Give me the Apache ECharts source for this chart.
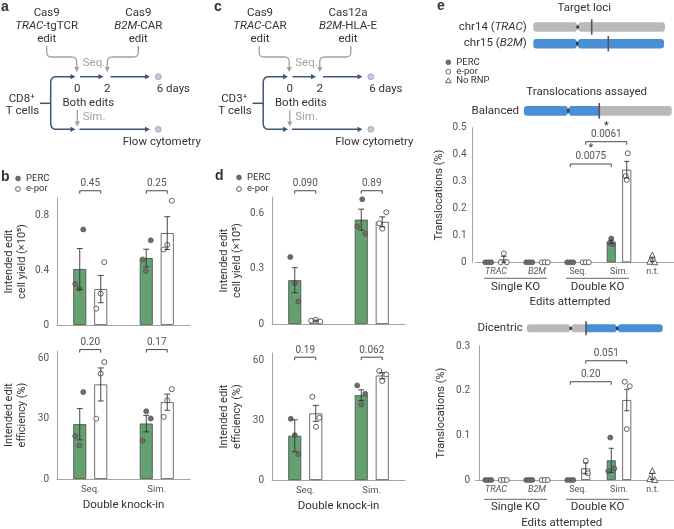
<!DOCTYPE html>
<html><head><meta charset="utf-8">
<script src="https://cdn.jsdelivr.net/npm/echarts@6/dist/echarts.min.js"></script>
<style>html,body{margin:0;padding:0;background:#fff}#c{width:674px;height:529px}</style>
</head><body><div id="c"></div>
<script>
// ================= DATA =================
const KI_CATS = ['Seq.', 'Sim.'];
// panel b (CD8+, TRAC-tgTCR + B2M-CAR)
const B_YIELD_PERC = [0.41, 0.49];
const B_YIELD_PERC_SEM = [0.15, 0.065];
const B_YIELD_PERC_PTS = [[0.70, 0.30, 0.265], [0.62, 0.48, 0.395]];
const B_YIELD_EPOR = [0.263, 0.673];
const B_YIELD_EPOR_SEM = [0.10, 0.12];
const B_YIELD_EPOR_PTS = [[0.46, 0.23, 0.12], [0.91, 0.587, 0.553]];
const B_YIELD_P = ['0.45', '0.25'];
const B_EFF_PERC = [27.2, 27.5];
const B_EFF_PERC_SEM = [7.8, 4.1];
const B_EFF_PERC_PTS = [[43.1, 21.3, 16.7], [33.6, 30.0, 19.0]];
const B_EFF_EPOR = [46.9, 38.1];
const B_EFF_EPOR_SEM = [8.2, 4.0];
const B_EFF_EPOR_PTS = [[58.0, 52.3, 29.9], [44.6, 39.0, 30.8]];
const B_EFF_P = ['0.20', '0.17'];
// panel d (CD3+, TRAC-CAR + B2M-HLA-E)
const D_YIELD_PERC = [0.238, 0.567];
const D_YIELD_PERC_SEM = [0.068, 0.057];
const D_YIELD_PERC_PTS = [[0.364, 0.222, 0.122], [0.678, 0.53, 0.49]];
const D_YIELD_EPOR = [0.018, 0.555];
const D_YIELD_EPOR_SEM = [0.003, 0.027];
const D_YIELD_EPOR_PTS = [[0.018, 0.023, 0.013], [0.607, 0.547, 0.518]];
const D_YIELD_P = ['0.090', '0.89'];
const D_EFF_PERC = [22.1, 42.4];
const D_EFF_PERC_SEM = [8.0, 2.7];
const D_EFF_PERC_PTS = [[30.6, 22.4, 12.9], [47.3, 43.1, 37.8]];
const D_EFF_EPOR = [33.3, 52.2];
const D_EFF_EPOR_SEM = [4.0, 1.5];
const D_EFF_EPOR_PTS = [[41.6, 31.1, 26.6], [54.5, 52.8, 49.5]];
const D_EFF_P = ['0.19', '0.062'];
// panel e
const KO_CATS = ['TRAC', 'B2M', 'Seq.', 'Sim.', 'n.t.'];
const BAL_PERC = [0, 0, 0, 0.076, null];
const BAL_PERC_SEM = [0, 0, 0, 0.006, null];
const BAL_PERC_PTS = [[0, 0, 0], [0, 0, 0], [0, 0, 0], [0.088, 0.072, 0.068]];
const BAL_EPOR = [0.011, 0, 0, 0.344, null];
const BAL_EPOR_SEM = [0.011, 0, 0, 0.031, null];
const BAL_EPOR_PTS = [[0.033, 0, 0], [0, 0, 0], [0, 0, 0], [0.405, 0.32, 0.306]];
const BAL_NORNP = [null, null, null, null, 0.011];
const BAL_NORNP_SEM = [null, null, null, null, 0.008];
const BAL_NORNP_PTS = [[], [], [], [], [0.027, 0.004, 0.002]];
const BAL_P = ['0.0075', '0.0061'];
const DIC_PERC = [0, 0, 0, 0.044, null];
const DIC_PERC_SEM = [0, 0, 0, 0.027, null];
const DIC_PERC_PTS = [[0, 0, 0], [0, 0, 0], [0, 0, 0], [0.095, 0.026, 0.02]];
const DIC_EPOR = [0, 0, 0.026, 0.179, null];
const DIC_EPOR_SEM = [0, 0, 0.012, 0.024, null];
const DIC_EPOR_PTS = [[0, 0, 0], [0, 0, 0], [0.043, 0.02, 0.015], [0.22, 0.21, 0.114]];
const DIC_NORNP = [null, null, null, null, 0.008];
const DIC_NORNP_SEM = [null, null, null, null, 0.007];
const DIC_NORNP_PTS = [[], [], [], [], [0.021, 0.003, 0.001]];
const DIC_P = ['0.20', '0.051'];

// ================= STYLE / LAYOUT =================
const FONT = 'Roboto, "Noto Sans", "DejaVu Sans", sans-serif';
const INK = '#333333', AX_TXT = '#555555', AX_LINE = '#9a9a9a';
const GREEN = '#63a171', DOT = '#6e6e6e', EDGE = '#4a4a4a';
const BLUE_CH = '#4a8fd3', GREY_CH = '#b9b9b9', NAVY = '#3e5573', GREY_ARW = '#a0a0a0';
const TICK_FS = 10, P_FS = 10;
// horizontal jitter of replicate points (px)
const J_B_YIELD_PERC = [[3.5, -4.5, -0.5], [4.5, -3.5, -0.5]];
const J_B_YIELD_EPOR = [[3.5, 0, -4.5], [4.5, 0, -3.5]];
const J_B_EFF_PERC = [[3.5, -4.5, -0.5], [0, 4.5, -3.5]];
const J_B_EFF_EPOR = [[3.5, 0, -4.5], [4.5, 0, -3.5]];
const J_D_YIELD_PERC = [[-4.5, 0, 3.5], [1, -4, 4]];
const J_D_YIELD_EPOR = [[-4.5, 0, 4.5], [4, -3, 0]];
const J_D_EFF_PERC = [[-4, 0, 3.5], [-4, 4, 0]];
const J_D_EFF_EPOR = [[-3.4, 3.6, 0.3], [-3, 4, 0]];
const J_BAL_PERC = [[-3, 0, 3], [-3, 0, 3], [-3, 0, 3], [0, -1.5, 1.5]];
const J_BAL_EPOR = [[0, -3, 3], [-3, 0, 3], [-3, 0, 3], [1, -1, 0]];
const J_DIC_PERC = [[-3, 0, 3], [-3, 0, 3], [-3, 0, 3], [-1, 3, -3]];
const J_DIC_EPOR = [[-3, 0, 3], [-3, 0, 3], [0, -2, 2], [-2, 3, 0]];
const J_NT = [[], [], [], [], [0, -2.5, 2.5]];

const GRIDS = [
  {left: 57, top: 198, width: 133, height: 127},
  {left: 57, top: 351, width: 133, height: 128},
  {left: 272, top: 197, width: 133, height: 127},
  {left: 272, top: 353, width: 133, height: 127},
  {left: 475.5, top: 127.7, width: 205, height: 134.6},
  {left: 475.5, top: 346, width: 205, height: 134}
];
const YAX = [
  {max: 0.93, interval: 0.4, name: 'Intended edit\ncell yield (×10⁵)', gap: 28, showMax: false, offset: 0, margin: 8},
  {max: 63.5, interval: 30, name: 'Intended edit\nefficiency (%)', gap: 28, showMax: false, offset: 0, margin: 8},
  {max: 0.69, interval: 0.3, name: 'Intended edit\ncell yield (×10⁵)', gap: 28, showMax: false, offset: 0, margin: 8},
  {max: 63.5, interval: 30, name: 'Intended edit\nefficiency (%)', gap: 28, showMax: false, offset: 0, margin: 8},
  {max: 0.5, interval: 0.1, name: 'Translocations (%)', gap: 26, showMax: true, offset: 3.5, margin: 5.5},
  {max: 0.3, interval: 0.1, name: 'Translocations (%)', gap: 31, showMax: true, offset: -3.5, margin: 9}
];

const chart = echarts.init(document.getElementById('c'), null, {renderer: 'canvas', width: 674, height: 529});

const grid = GRIDS.map(g => Object.assign({outerBoundsMode: 'none', containLabel: false}, g));
const yAxis = YAX.map((a, i) => ({
  type: 'value', gridIndex: i, min: 0, max: a.max, interval: a.interval, offset: a.offset,
  name: a.name, nameLocation: 'middle', nameRotate: 90, nameGap: a.gap, nameMoveOverlap: false,
  nameTextStyle: {fontFamily: FONT, fontSize: 11, lineHeight: 13.5, color: INK},
  axisLine: {show: true, lineStyle: {color: AX_LINE, width: 0.9}},
  axisTick: {show: false}, splitLine: {show: false},
  axisLabel: {fontFamily: FONT, fontSize: TICK_FS, color: AX_TXT, margin: a.margin, showMaxLabel: a.showMax, showMinLabel: true,
    formatter: v => (Math.round(v * 1000) / 1000).toString()}
}));
const xAxis = [0, 1, 2, 3].map(i => ({
  type: 'category', gridIndex: i, data: KI_CATS,
  name: (i === 1 || i === 3) ? 'Double knock-in' : '', nameLocation: 'middle', nameGap: 20.5,
  nameTextStyle: {fontFamily: FONT, fontSize: 11.5, color: INK},
  axisLine: {lineStyle: {color: AX_LINE, width: 0.9}}, axisTick: {show: false},
  axisLabel: {show: i === 1 || i === 3, interval: 0, fontFamily: FONT, fontSize: 9.5, color: AX_TXT, margin: 5.5}
})).concat([4, 5].map(i => ({
  type: 'category', gridIndex: i, data: KO_CATS,
  axisLine: {lineStyle: {color: AX_LINE, width: 0.9}}, axisTick: {show: false},
  axisLabel: {interval: 0, fontFamily: FONT, fontSize: 9, color: AX_TXT, margin: i === 4 ? 4.5 : 5,
    formatter: v => (v === 'TRAC' || v === 'B2M') ? '{i|' + v + '}' : (v === 'n.t.' ? '{nt|' + v + '}' : v),
    rich: {i: {fontStyle: 'italic', fontFamily: FONT, fontSize: 9, color: AX_TXT},
           nt: {fontFamily: FONT, fontSize: 9, color: AX_TXT, padding: [0, 14.6, 0, 0]}}}
})));

const series = [];
function scatterS(gi, pts, jit, off, fill, symbol) {
  const data = [];
  pts.forEach((arr, i) => arr.forEach((v, k) => data.push({value: [i, v], symbolOffset: [off + jit[i][k], 0]})));
  return {type: 'scatter', xAxisIndex: gi, yAxisIndex: gi, data, symbol, symbolSize: symbol === 'triangle' ? 6 : 5,
    clip: false, z: 3, silent: true, animation: false,
    itemStyle: {color: fill, borderColor: '#505050', borderWidth: fill === '#ffffff' ? 0.9 : 0.7, opacity: 1}};
}
function errS(gi, means, sems, off, cap) {
  const data = [];
  means.forEach((m, i) => { if (m != null && sems[i]) data.push([i, m, sems[i]]); });
  return {type: 'custom', xAxisIndex: gi, yAxisIndex: gi, data, z: 4, silent: true, animation: false, clip: false,
    encode: {x: 0, y: 1},
    renderItem(params, api) {
      const i = api.value(0), m = api.value(1), s = api.value(2);
      const t = api.coord([i, m + s]), b = api.coord([i, Math.max(0, m - s)]);
      const x = t[0] + off, st = {stroke: '#333', lineWidth: 0.9};
      return {type: 'group', children: [
        {type: 'line', shape: {x1: x, y1: t[1], x2: x, y2: b[1]}, style: st},
        {type: 'line', shape: {x1: x - cap, y1: t[1], x2: x + cap, y2: t[1]}, style: st},
        {type: 'line', shape: {x1: x - cap, y1: b[1], x2: x + cap, y2: b[1]}, style: st}
      ]};
    }};
}
function panel(gi, d, off, bw, gap, cap) {
  const bar = (vals, color) => ({type: 'bar', xAxisIndex: gi, yAxisIndex: gi, data: vals.map(v => v == null ? '-' : v),
    barWidth: bw, barGap: gap, z: 2, silent: true, animation: false,
    itemStyle: {color, borderColor: EDGE, borderWidth: 0.8}});
  series.push(bar(d.perc, GREEN), bar(d.epor, '#ffffff'),
    scatterS(gi, d.percPts, d.jp, -off, DOT, 'circle'),
    scatterS(gi, d.eporPts, d.je, off, '#ffffff', 'circle'),
    errS(gi, d.perc, d.percSem, -off, cap), errS(gi, d.epor, d.eporSem, off, cap));
  if (d.nt) series.push(scatterS(gi, d.ntPts, J_NT, -off, '#ffffff', 'triangle'), errS(gi, d.nt, d.ntSem, -off, cap));
}
panel(0, {perc: B_YIELD_PERC, percSem: B_YIELD_PERC_SEM, percPts: B_YIELD_PERC_PTS, jp: J_B_YIELD_PERC,
  epor: B_YIELD_EPOR, eporSem: B_YIELD_EPOR_SEM, eporPts: B_YIELD_EPOR_PTS, je: J_B_YIELD_EPOR}, 10.5, 13, '61.5%', 3);
panel(1, {perc: B_EFF_PERC, percSem: B_EFF_PERC_SEM, percPts: B_EFF_PERC_PTS, jp: J_B_EFF_PERC,
  epor: B_EFF_EPOR, eporSem: B_EFF_EPOR_SEM, eporPts: B_EFF_EPOR_PTS, je: J_B_EFF_EPOR}, 10.5, 13, '61.5%', 3);
panel(2, {perc: D_YIELD_PERC, percSem: D_YIELD_PERC_SEM, percPts: D_YIELD_PERC_PTS, jp: J_D_YIELD_PERC,
  epor: D_YIELD_EPOR, eporSem: D_YIELD_EPOR_SEM, eporPts: D_YIELD_EPOR_PTS, je: J_D_YIELD_EPOR}, 10.5, 13, '61.5%', 3);
panel(3, {perc: D_EFF_PERC, percSem: D_EFF_PERC_SEM, percPts: D_EFF_PERC_PTS, jp: J_D_EFF_PERC,
  epor: D_EFF_EPOR, eporSem: D_EFF_EPOR_SEM, eporPts: D_EFF_EPOR_PTS, je: J_D_EFF_EPOR}, 10.5, 13, '61.5%', 3);
panel(4, {perc: BAL_PERC, percSem: BAL_PERC_SEM, percPts: BAL_PERC_PTS, jp: J_BAL_PERC,
  epor: BAL_EPOR, eporSem: BAL_EPOR_SEM, eporPts: BAL_EPOR_PTS, je: J_BAL_EPOR,
  nt: BAL_NORNP, ntSem: BAL_NORNP_SEM, ntPts: BAL_NORNP_PTS}, 7.75, 9, '72%', 2.5);
panel(5, {perc: DIC_PERC, percSem: DIC_PERC_SEM, percPts: DIC_PERC_PTS, jp: J_DIC_PERC,
  epor: DIC_EPOR, eporSem: DIC_EPOR_SEM, eporPts: DIC_EPOR_PTS, je: J_DIC_EPOR,
  nt: DIC_NORNP, ntSem: DIC_NORNP_SEM, ntPts: DIC_NORNP_PTS}, 7.75, 9, '72%', 2.5);

chart.setOption({animation: false, backgroundColor: '#ffffff', grid, xAxis, yAxis, series});

// ================= ANNOTATIONS / SCHEMATICS =================
const G = [];
function text(x, y, s, o = {}) {
  const size = o.size || 11.5;
  const font = (o.italic ? 'italic ' : '') + (o.bold ? 'bold ' : '') + size + 'px ' + (o.family || FONT);
  const al = o.align || 'center', va = o.va || 'middle';
  const st = {text: s, font, fill: o.fill || INK, align: al, verticalAlign: va, textAlign: al, textVerticalAlign: va};
  if (o.rich) st.rich = o.rich;
  G.push({type: 'text', x, y, rotation: o.rot || 0, silent: true, z: 100, style: st});
}
function richI(size, fill) { return {i: {font: 'italic ' + size + 'px ' + FONT, fill: fill || INK}}; }
function pl(points, stroke, lw) {
  G.push({type: 'polyline', silent: true, z: 100, shape: {points}, style: {stroke, fill: null, lineWidth: lw || 1, lineJoin: 'round'}});
}
function poly(points, fill) { G.push({type: 'polygon', silent: true, z: 100, shape: {points}, style: {fill}}); }
function circ(cx, cy, r, fill, stroke, lw) {
  G.push({type: 'circle', silent: true, z: 100, shape: {cx, cy, r}, style: {fill, stroke: stroke || null, lineWidth: lw || 0.8}});
}
function rect(x, y, w, h, r, fill) { G.push({type: 'rect', silent: true, z: 100, shape: {x, y, width: w, height: h, r}, style: {fill}}); }
function rounded(pts, r) {
  const out = [pts[0]];
  for (let i = 1; i < pts.length - 1; i++) {
    const [px, py] = pts[i - 1], [cx, cy] = pts[i], [nx, ny] = pts[i + 1];
    const d1 = Math.hypot(cx - px, cy - py), d2 = Math.hypot(nx - cx, ny - cy);
    const rr = Math.min(r, d1 / 2, d2 / 2);
    const ax = cx + (px - cx) / d1 * rr, ay = cy + (py - cy) / d1 * rr;
    const bx = cx + (nx - cx) / d2 * rr, by = cy + (ny - cy) / d2 * rr;
    for (let k = 0; k <= 8; k++) {
      const t = k / 8;
      out.push([(1 - t) * (1 - t) * ax + 2 * (1 - t) * t * cx + t * t * bx, (1 - t) * (1 - t) * ay + 2 * (1 - t) * t * cy + t * t * by]);
    }
  }
  out.push(pts[pts.length - 1]);
  return out;
}
function arrow(x, y, dir, color, len = 5, hw = 2.6) {
  if (dir === 'r') poly([[x, y], [x - len, y - hw], [x - len, y + hw]], color);
  else poly([[x, y], [x - hw, y - len], [x + hw, y - len]], color);
}

// panel labels
const PL = {bold: true, size: 14, family: '"Liberation Sans", Arial, sans-serif', align: 'left'};
text(1, 7, 'a', PL); text(214, 7, 'c', PL); text(437, 6, 'e', PL);
text(1, 177, 'b', PL); text(215, 176, 'd', PL);

function schematic(dx, L, R, cellTop) {
  const rich = richI(11.5);
  [13.3, 26, 39.3].forEach((y, k) => { text(L.cx, y, L.lines[k], {rich}); text(R.cx, y, R.lines[k], {rich}); });
  // grey arrows
  pl(rounded([[dx + 46.7, 46], [dx + 46.7, 57], [dx + 76.7, 57], [dx + 76.7, 67.5]], 5), GREY_ARW, 1.3);
  arrow(dx + 76.7, 72, 'd', GREY_ARW);
  pl(rounded([[dx + 138.3, 46], [dx + 138.3, 57], [dx + 107.3, 57], [dx + 107.3, 67.5]], 5), GREY_ARW, 1.3);
  arrow(dx + 107.3, 72, 'd', GREY_ARW);
  text(dx + 82.7, 63.3, 'Seq.', {align: 'left', fill: '#a3a3a3'});
  // navy timeline
  pl([[dx + 40, 103.3], [dx + 50.7, 103.3]], NAVY, 1.5);
  pl(rounded([[dx + 71, 76.7], [dx + 50.7, 76.7], [dx + 50.7, 129.3], [dx + 71, 129.3]], 6), NAVY, 1.5);
  arrow(dx + 75.5, 76.7, 'r', NAVY); arrow(dx + 75.5, 129.3, 'r', NAVY);
  pl([[dx + 80, 76.7], [dx + 99, 76.7]], NAVY, 1.5); arrow(dx + 103.5, 76.7, 'r', NAVY);
  pl([[dx + 110.5, 76.7], [dx + 145.5, 76.7]], NAVY, 1.5); arrow(dx + 150, 76.7, 'r', NAVY);
  pl([[dx + 79.5, 129.3], [dx + 145.5, 129.3]], NAVY, 1.5); arrow(dx + 150, 129.3, 'r', NAVY);
  circ(dx + 158.3, 76.7, 2.9, '#c9c8de', '#8e8ea6', 0.7);
  circ(dx + 158.3, 129.3, 2.9, '#c9c8de', '#8e8ea6', 0.7);
  pl([[dx + 77.3, 110], [dx + 77.3, 122]], GREY_ARW, 1.3); arrow(dx + 77.3, 126.5, 'd', GREY_ARW);
  text(dx + 82.7, 116.7, 'Sim.', {align: 'left', fill: '#a3a3a3'});
  text(dx + 77.3, 89.3, '0'); text(dx + 107.3, 89.3, '2');
  text(dx + 156.7, 89.3, '6 days', {align: 'left'});
  text(dx + 88.3, 103.3, 'Both edits');
  text(dx + 161.8, 141.7, 'Flow cytometry');
  text(dx + 21.7, 99, cellTop); text(dx + 22.5, 111, 'T cells');
}
schematic(0, {cx: 46.7, lines: ['Cas9', '{i|TRAC}-tgTCR', 'edit']}, {cx: 138.3, lines: ['Cas9', '{i|B2M}-CAR', 'edit']}, 'CD8⁺');
schematic(212.5, {cx: 260, lines: ['Cas9', '{i|TRAC}-CAR', 'edit']}, {cx: 348, lines: ['Cas12a', '{i|B2M}-HLA-E', 'edit']}, 'CD3⁺');

// legends
function legend(x, ys, tri) {
  circ(x, ys[0], 2.4, DOT, '#505050', 0.7); text(x + 8, ys[0], 'PERC', {align: 'left', size: 9.5});
  circ(x, ys[1], 2.4, '#ffffff', '#505050', 0.9); text(x + 8, ys[1], 'e-por', {align: 'left', size: 9.5});
  if (tri) {
    G.push({type: 'polygon', silent: true, z: 100, shape: {points: [[x, ys[2] - 2.8], [x - 2.8, ys[2] + 2], [x + 2.8, ys[2] + 2]]},
      style: {fill: '#fff', stroke: '#505050', lineWidth: 0.9}});
    text(x + 8, ys[2], 'No RNP', {align: 'left', size: 9.5});
  }
}
legend(18, [178.5, 189]); legend(239, [177.5, 189]); legend(448.3, [62.3, 71.7, 80.7], true);

// chromosomes
function chromo(segs, yc, h, cens, cut) {
  segs.forEach(s => rect(s.x1, yc - h / 2, s.x2 - s.x1, h, [s.l ? 3 : 0, s.r ? 3 : 0, s.r ? 3 : 0, s.l ? 3 : 0], s.c));
  cens.forEach(c => {
    poly([[c - 2.6, yc - h / 2 - 0.3], [c + 2.6, yc - h / 2 - 0.3], [c, yc - h / 2 + 2.4]], '#ffffff');
    poly([[c - 2.6, yc + h / 2 + 0.3], [c + 2.6, yc + h / 2 + 0.3], [c, yc + h / 2 - 2.4]], '#ffffff');
    rect(c - 1.3, yc - 1.6, 2.6, 3.2, 0.6, '#3a3a3a');
  });
  G.push({type: 'line', silent: true, z: 101, shape: {x1: cut, y1: yc - h / 2 - 3, x2: cut, y2: yc + h / 2 + 3}, style: {stroke: '#555', lineWidth: 1.6}});
}
text(584.3, 8.3, 'Target loci');
text(526.7, 26.7, 'chr14 ({i|TRAC})', {align: 'right', rich: richI(11.5)});
text(526.7, 43.5, 'chr15 ({i|B2M})', {align: 'right', rich: richI(11.5)});
chromo([{x1: 533.3, x2: 665, c: GREY_CH, l: 1, r: 1}], 27, 9.4, [577.7], 591.7);
chromo([{x1: 533.3, x2: 664, c: BLUE_CH, l: 1, r: 1}], 43.7, 9.4, [577.3], 608.3);
text(586.7, 91.7, 'Translocations assayed');
text(519, 110.8, 'Balanced', {align: 'right'});
chromo([{x1: 524, x2: 599.3, c: BLUE_CH, l: 1}, {x1: 599.3, x2: 671.7, c: GREY_CH, r: 1}], 110.8, 9.7, [568.3], 599.3);
text(522.7, 328.3, 'Dicentric', {align: 'right'});
chromo([{x1: 526.7, x2: 586, c: GREY_CH, l: 1}, {x1: 586, x2: 662.7, c: BLUE_CH, r: 1}], 328.3, 8, [570.7, 617.3], 586);

// significance brackets
const P = (gi, cat, val) => chart.convertToPixel({gridIndex: gi}, [cat, val]);
function bracket(x1, x2, y, tick) { pl([[x1, y + tick], [x1, y], [x2, y], [x2, y + tick]], '#333', 0.9); }
[[0, 0.983, B_YIELD_P], [1, 64.2, B_EFF_P], [2, 0.724, D_YIELD_P], [3, 61.4, D_EFF_P]].forEach(([gi, lvl, ps]) => {
  ps.forEach((p, i) => {
    const [cx, y] = P(gi, i, lvl);
    bracket(cx - 10.5, cx + 10.5, y, 3);
    text(cx, y - 7, p, {size: P_FS, fill: AX_TXT});
  });
});
[[4, -1, 0.365, BAL_P[0], true], [4, 1, 0.448, BAL_P[1], true], [5, -1, 0.22, DIC_P[0], false], [5, 1, 0.267, DIC_P[1], false]]
  .forEach(([gi, side, lvl, p, star]) => {
    const a = P(gi, 2, lvl), b = P(gi, 3, lvl);
    const x1 = a[0] + side * 7.75, x2 = b[0] + side * 7.75, y = a[1];
    bracket(x1, x2, y, 3);
    text((x1 + x2) / 2, y - 7.5, p, {size: P_FS, fill: AX_TXT});
    if (star) text((x1 + x2) / 2, y - 15.5, '*', {size: 11, fill: INK});
  });

// KO group underlines and titles
[[4, 16, 24.4, 302.3, 570], [5, 19.3, 26.7, 522.7, 561.7]].forEach(([gi, dl, dt, ty, tx]) => {
  const y0 = P(gi, 0, 0)[1];
  [['Single KO', 0, 1], ['Double KO', 2, 3]].forEach(([lab, c1, c2]) => {
    const x1 = P(gi, c1, 0)[0] - 12, x2 = P(gi, c2, 0)[0] + 10;
    pl([[x1, y0 + dl], [x2, y0 + dl]], '#555', 0.9);
    text((x1 + x2) / 2, y0 + dt, lab);
  });
  text(tx, ty, 'Edits attempted');
});

chart.setOption({graphic: {elements: G}});
</script></body></html>
